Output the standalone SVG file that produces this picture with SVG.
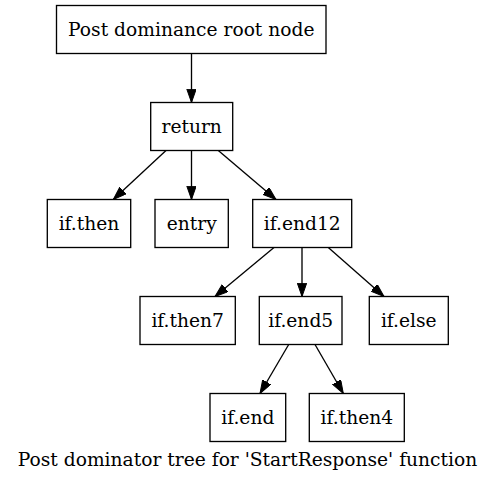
<svg xmlns="http://www.w3.org/2000/svg" width="496" height="480" viewBox="0 0 496 480">
<style>
.n rect{fill:#fff;stroke:#000;stroke-width:1.33}
.n text,.cap{font-family:"DejaVu Serif",serif;font-size:18.67px;fill:#000;text-anchor:middle}
.e line{stroke:#000;stroke-width:1.33;marker-end:url(#ah)}
</style>
<defs>
<marker id="ah" markerUnits="userSpaceOnUse" markerWidth="14" markerHeight="10" refX="13.3" refY="4.67" orient="auto" viewBox="0 0 14 10">
<path d="M0,0 L13.3,4.67 L0,9.33 z" fill="#000" stroke="#000" stroke-width="1"/>
</marker>
</defs>
<rect width="496" height="480" fill="#fff"/>
<g id="edges" class="e">
<line x1="191.5" y1="53.5" x2="191.5" y2="102.5"/>
<line x1="166" y1="150.5" x2="113.3" y2="199.5"/>
<line x1="191.5" y1="150.5" x2="191.5" y2="199.5"/>
<line x1="218.3" y1="150.5" x2="276" y2="199.5"/>
<line x1="274" y1="247.5" x2="215" y2="296.5"/>
<line x1="302" y1="247.5" x2="302" y2="296.5"/>
<line x1="328.3" y1="247.5" x2="384" y2="296.5"/>
<line x1="288.7" y1="344.5" x2="260" y2="393.5"/>
<line x1="315" y1="344.5" x2="343.3" y2="393.5"/>
</g>
<g id="root" class="n"><rect x="56.5" y="5.5" width="269.5" height="48"/><text x="191.3" y="35.7">Post dominance root node</text></g>
<g id="return" class="n"><rect x="150.7" y="102.5" width="82" height="48"/><text x="191.7" y="132.7">return</text></g>
<g id="if.then" class="n"><rect x="47.3" y="199.5" width="83.4" height="48"/><text x="89" y="229.7">if.then</text></g>
<g id="entry" class="n"><rect x="155" y="199.5" width="73.3" height="48"/><text x="191.7" y="229.7">entry</text></g>
<g id="if.end12" class="n"><rect x="252.7" y="199.5" width="99" height="48"/><text x="302.2" y="229.7">if.end12</text></g>
<g id="if.then7" class="n"><rect x="140" y="296.5" width="95.3" height="48"/><text x="187.7" y="326.7">if.then7</text></g>
<g id="if.end5" class="n"><rect x="259.3" y="296.5" width="82.7" height="48"/><text x="300.7" y="326.7">if.end5</text></g>
<g id="if.else" class="n"><rect x="369.3" y="296.5" width="79" height="48"/><text x="408.8" y="326.7">if.else</text></g>
<g id="if.end" class="n"><rect x="210" y="393.5" width="75.7" height="48"/><text x="247.8" y="423.7">if.end</text></g>
<g id="if.then4" class="n"><rect x="309.3" y="393.5" width="95" height="48"/><text x="356.8" y="423.7">if.then4</text></g>
<text class="cap" x="247.5" y="466">Post dominator tree for 'StartResponse' function</text>
</svg>
